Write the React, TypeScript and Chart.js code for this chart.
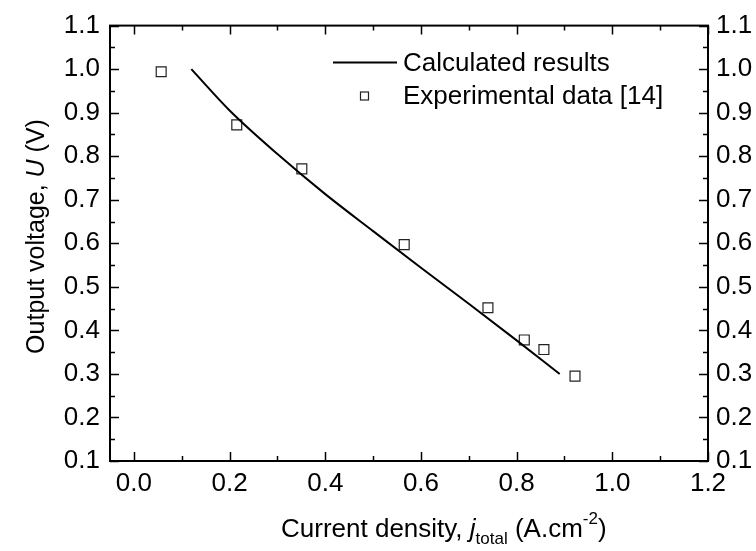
import { useEffect, useRef } from 'react';
import { Chart, registerables } from 'chart.js';

Chart.register(...registerables);

// ---- data ----
const calcX = [0.12, 0.2, 0.3, 0.4, 0.5, 0.6, 0.7, 0.8, 0.89];
const calcY = [1.0, 0.905, 0.805, 0.713, 0.628, 0.544, 0.461, 0.377, 0.3];

const expX = [0.057, 0.215, 0.351, 0.565, 0.74, 0.816, 0.857, 0.922];
const expY = [0.994, 0.872, 0.771, 0.597, 0.452, 0.378, 0.356, 0.295];

const xMajorTicks = [0.0, 0.2, 0.4, 0.6, 0.8, 1.0, 1.2];
const xMinorTicks = [0.1, 0.3, 0.5, 0.7, 0.9, 1.1];
const yMajorTicks = [0.1, 0.2, 0.3, 0.4, 0.5, 0.6, 0.7, 0.8, 0.9, 1.0, 1.1];
const yMinorTicks = [0.15, 0.25, 0.35, 0.45, 0.55, 0.65, 0.75, 0.85, 0.95, 1.05];

const legendLabels = ['Calculated results', 'Experimental data [14]'];

const FONT = '"Liberation Sans", Arial, sans-serif';

const framePlugin = {
  id: 'frameTicks',
  afterDatasetsDraw(chart: any) {
    const { ctx, chartArea } = chart;
    const { left, right, top, bottom } = chartArea;
    const xs = chart.scales.x;
    const ys = chart.scales.y;
    ctx.save();
    ctx.strokeStyle = '#000';
    ctx.lineWidth = 1.5;
    const majorLen = 9;
    const minorLen = 5;
    const drawX = (vals: number[], len: number) => {
      vals.forEach((v) => {
        const px = Math.round(xs.getPixelForValue(v)) + 0.5;
        ctx.beginPath();
        ctx.moveTo(px, bottom);
        ctx.lineTo(px, bottom - len);
        ctx.moveTo(px, top);
        ctx.lineTo(px, top + len);
        ctx.stroke();
      });
    };
    const drawY = (vals: number[], len: number) => {
      vals.forEach((v) => {
        const py = Math.round(ys.getPixelForValue(v)) + 0.5;
        ctx.beginPath();
        ctx.moveTo(left, py);
        ctx.lineTo(left + len, py);
        ctx.moveTo(right, py);
        ctx.lineTo(right - len, py);
        ctx.stroke();
      });
    };
    drawX(xMajorTicks, majorLen);
    drawX(xMinorTicks, minorLen);
    drawY(yMajorTicks, majorLen);
    drawY(yMinorTicks, minorLen);
    ctx.lineWidth = 2;
    ctx.strokeRect(left, top, right - left, bottom - top);

    // legend
    const lx0 = 333;
    const lx1 = 397;
    const ly1 = 62.5;
    const ly2 = 96;
    ctx.lineWidth = 2;
    ctx.beginPath();
    ctx.moveTo(lx0, ly1);
    ctx.lineTo(lx1, ly1);
    ctx.stroke();
    ctx.lineWidth = 1.2;
    ctx.strokeStyle = '#222';
    ctx.strokeRect(360.5, ly2 - 4, 8, 8);
    ctx.fillStyle = '#000';
    ctx.font = `26px ${FONT}`;
    ctx.textBaseline = 'alphabetic';
    ctx.textAlign = 'left';
    ctx.fillText(legendLabels[0], 403, 70.5);
    ctx.fillText(legendLabels[1], 403, 104);

    // x title
    const parts: Array<[string, string, number]> = [
      ['Current density, ', `26px ${FONT}`, 0],
      ['j', `italic 26px ${FONT}`, 0],
      ['total', `17px ${FONT}`, 7],
      [' (A.cm', `26px ${FONT}`, 0],
      ['-2', `17px ${FONT}`, -13],
      [')', `26px ${FONT}`, 0],
    ];
    let x = 281;
    const base = 537;
    parts.forEach(([t, f, dy]) => {
      ctx.font = f;
      ctx.fillText(t, x, base + dy);
      x += ctx.measureText(t).width;
    });

    // y title
    const yparts: Array<[string, string]> = [
      ['Output voltage, ', `25px ${FONT}`],
      ['U', `italic 25px ${FONT}`],
      [' (V)', `25px ${FONT}`],
    ];
    let total = 0;
    yparts.forEach(([t, f]) => {
      ctx.font = f;
      total += ctx.measureText(t).width;
    });
    ctx.save();
    ctx.translate(43.5, 236.5 + total / 2);
    ctx.rotate(-Math.PI / 2);
    let tx = 0;
    yparts.forEach(([t, f]) => {
      ctx.font = f;
      ctx.fillText(t, tx, 0);
      tx += ctx.measureText(t).width;
    });
    ctx.restore();
    ctx.restore();
  },
};

export default function App() {
  const ref = useRef<HTMLCanvasElement | null>(null);

  useEffect(() => {
    document.body.style.margin = '0';
    if (!ref.current) return;
    const tickFont = { family: FONT, size: 26 };
    const chart = new Chart(ref.current, {
      type: 'scatter',
      data: {
        datasets: [
          {
            label: legendLabels[0],
            data: calcX.map((x, i) => ({ x, y: calcY[i] })),
            showLine: true,
            borderColor: '#000',
            borderWidth: 2,
            pointRadius: 0,
            cubicInterpolationMode: 'monotone',
            yAxisID: 'y',
          },
          {
            label: legendLabels[1],
            data: expX.map((x, i) => ({ x, y: expY[i] })),
            showLine: false,
            pointStyle: 'rect',
            pointRadius: 7,
            pointBorderColor: '#222',
            pointBackgroundColor: 'rgba(255,255,255,0)',
            pointBorderWidth: 1.2,
            yAxisID: 'y',
          },
        ] as any,
      },
      options: {
        responsive: false,
        animation: false,
        layout: { padding: { top: 24, left: 0, right: 0, bottom: 0 } },
        plugins: { legend: { display: false }, tooltip: { enabled: false } },
        scales: {
          x: {
            type: 'linear',
            position: 'bottom',
            min: -0.05,
            max: 1.2,
            grid: { display: false, drawTicks: false },
            border: { display: false },
            afterBuildTicks: (s: any) => {
              s.ticks = xMajorTicks.map((v) => ({ value: v }));
            },
            afterFit: (s: any) => {
              s.height = 90;
            },
            ticks: {
              font: tickFont,
              color: '#000',
              padding: 7,
              maxRotation: 0,
              autoSkip: false,
              callback: (v: any) => Number(v).toFixed(1),
            },
          },
          y: {
            type: 'linear',
            position: 'left',
            min: 0.1,
            max: 1.1,
            grid: { display: false, drawTicks: false },
            border: { display: false },
            afterBuildTicks: (s: any) => {
              s.ticks = yMajorTicks.map((v) => ({ value: v }));
            },
            afterFit: (s: any) => {
              s.width = 110;
            },
            ticks: {
              font: tickFont,
              color: '#000',
              padding: 10,
              autoSkip: false,
              callback: (v: any) => Number(v).toFixed(1),
            },
          },
          y2: {
            type: 'linear',
            position: 'right',
            min: 0.1,
            max: 1.1,
            grid: { display: false, drawTicks: false },
            border: { display: false },
            afterBuildTicks: (s: any) => {
              s.ticks = yMajorTicks.map((v) => ({ value: v }));
            },
            afterFit: (s: any) => {
              s.width = 48;
            },
            ticks: {
              font: tickFont,
              color: '#000',
              padding: 8,
              autoSkip: false,
              callback: (v: any) => Number(v).toFixed(1),
            },
          },
        },
      } as any,
      plugins: [framePlugin],
    });
    return () => chart.destroy();
  }, []);

  return (
    <div style={{ width: 756, height: 551, background: '#fff' }}>
      <canvas ref={ref} width={756} height={551} />
    </div>
  );
}
